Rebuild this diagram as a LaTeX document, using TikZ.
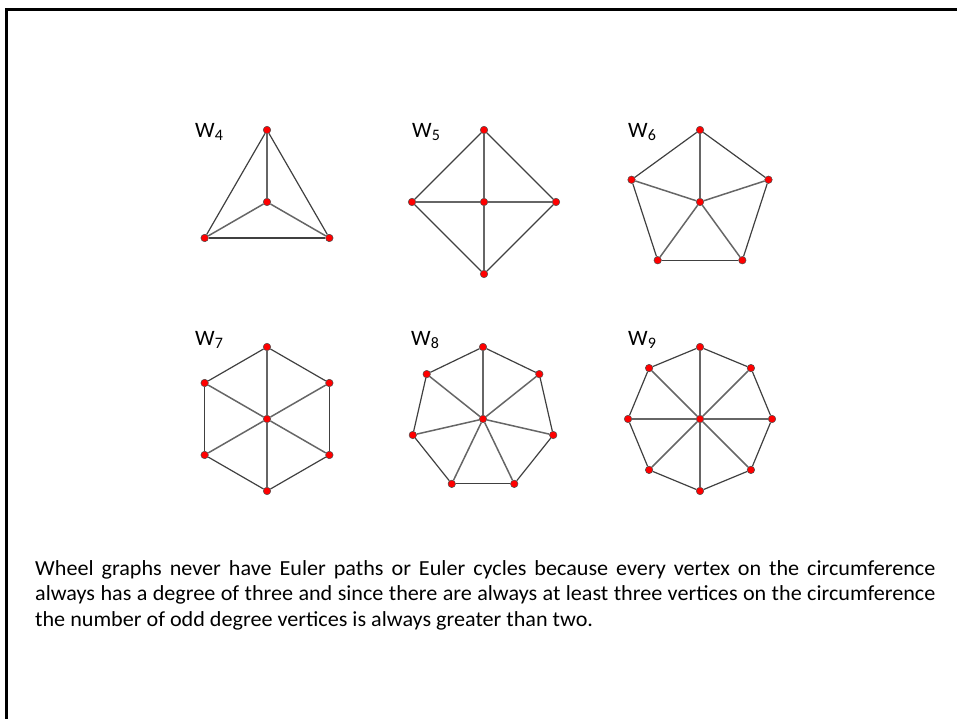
\documentclass[tikz,border=0pt]{standalone}
\usepackage{fontspec}
\setmainfont{Carlito}
\newfontfamily\bodyfont[FakeStretch=1.03]{Carlito}
\usetikzlibrary{calc}
\tikzset{
  rim/.style={draw=black!75, line width=1.2pt},
  spoke/.style={draw=black!60, line width=1.5pt},
  vtx/.style={circle, fill=red, draw=black!70, line width=0.5pt, inner sep=0pt, minimum size=7.5pt},
  wlabel/.style={anchor=west, inner sep=0pt, font=\fontsize{22}{22}\selectfont}
}
\begin{document}
\begin{tikzpicture}[x=1pt,y=1pt]
  \useasboundingbox (0,0) rectangle (957,719);
  \draw[line width=3pt] (6,0) -- (6,709.5) -- (957,709.5);
  % wheels: name / centre / rim size / subscript / label height
  \foreach \nm/\cx/\cy/\k/\lab/\ly in {a/267/517/3/4/70, b/484/517/4/5/70, c/700/517/5/6/70,
                                       d/267/300/6/7/79, e/483/300/7/8/79, f/700/300/8/9/79} {
    \node[vtx] (\nm0) at (\cx,\cy) {};
    \foreach \i in {1,...,\k}
      \node[vtx] (\nm\i) at ($(\cx,\cy)+({90+360*(\i-1)/\k}:72)$) {};
    \foreach \i in {1,...,\k} {
      \pgfmathtruncatemacro\j{mod(\i,\k)+1}
      \draw[rim] (\nm\i) -- (\nm\j);
      \draw[spoke] (\nm0) -- (\nm\i);
    }
    \node[wlabel] (l\nm) at (\cx-72,\cy+\ly) {W{\fontsize{16}{16}\selectfont\raisebox{-3pt}{\lab}}};
  }
  \node[anchor=north west, inner sep=0pt, text width=900pt, align=justify,
        font=\fontsize{21.5}{25.5}\bodyfont] (txt) at (35,159)
    {Wheel graphs never have Euler paths or Euler cycles because every vertex on the circumference\linebreak
     always has a degree of three and since there are always at least three vertices on the circumference\linebreak
     the number of odd degree vertices is always greater than two.};
\end{tikzpicture}
\end{document}
